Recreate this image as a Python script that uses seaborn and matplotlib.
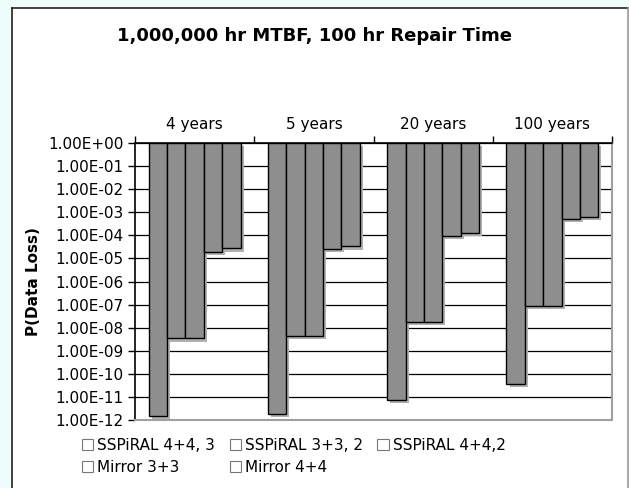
import pandas as pd
import seaborn as sns
import matplotlib
matplotlib.use('Agg')
import matplotlib.pyplot as plt
import matplotlib.patheffects as pe
from matplotlib.patches import Patch, Rectangle
from matplotlib.lines import Line2D
from matplotlib.ticker import FixedLocator, FuncFormatter

plt.rcParams['font.family'] = ['DejaVu Sans']

# data (P of data loss, bars hang down from 1)
periods = ['4 years', '5 years', '20 years', '100 years']
configs = ['SSPiRAL 4+4, 3', 'SSPiRAL 3+3, 2', 'SSPiRAL 4+4,2', 'Mirror 3+3', 'Mirror 4+4']
sspiral_443 = [1.5e-12, 1.9e-12, 7.7e-12, 3.8e-11]
sspiral_332 = [3.4e-9, 4.3e-9, 1.8e-8, 9.1e-8]
sspiral_442 = [3.4e-9, 4.3e-9, 1.8e-8, 9.1e-8]
mirror_33 = [1.9e-5, 2.5e-5, 9.5e-5, 5.0e-4]
mirror_44 = [2.7e-5, 3.3e-5, 1.3e-4, 6.3e-4]

series = [sspiral_443, sspiral_332, sspiral_442, mirror_33, mirror_44]
rows = []
for name, vals in zip(configs, series):
    for per, v in zip(periods, vals):
        rows.append({'Period': per, 'Config': name, 'P': v})
df = pd.DataFrame(rows)

bar_col = '#8e8e8e'
shadow_col = '#b0b0b0'

fig = plt.figure(figsize=(6.29, 4.88), dpi=100, facecolor='#eefcfc')
# white chart area with Excel-like frame
fig.add_artist(Rectangle((12/629, 0), 616/629, 480/488, transform=fig.transFigure,
                         facecolor='white', edgecolor='none', zorder=-10))
fig.add_artist(Line2D([12/629, 12/629], [0, 480/488], transform=fig.transFigure, color='#222222', lw=1.2))
fig.add_artist(Line2D([12/629, 628/629], [480/488, 480/488], transform=fig.transFigure, color='#222222', lw=1.2))
fig.add_artist(Line2D([627.5/629, 627.5/629], [0, 480/488], transform=fig.transFigure, color='#999999', lw=1.2))

ax = fig.add_axes([135/629, 1 - 420/488, 477/629, 277/488])
ax.set_facecolor('white')

sns.barplot(data=df, x='Period', y='P', hue='Config', order=periods, hue_order=configs,
            palette=[bar_col] * 5, edgecolor='black', linewidth=1.0, width=0.77,
            saturation=1, legend=False, errorbar=None, ax=ax)

# turn bars so they hang from 1 down to the value
for p in ax.patches:
    v = p.get_height()
    p.set_y(v)
    p.set_height(1 - v)
    p.set_path_effects([pe.SimplePatchShadow(offset=(2.2, -2.2), shadow_rgbFace=shadow_col, alpha=1),
                        pe.Normal()])

ax.set_yscale('log')
ax.set_ylim(1e-12, 1)
ax.set_xlim(-0.5, 3.5)
ax.yaxis.set_major_locator(FixedLocator([10.0 ** -k for k in range(13)]))
ax.yaxis.set_minor_locator(FixedLocator([]))
ax.yaxis.set_major_formatter(FuncFormatter(lambda v, pos: f'{v:.2E}'))
ax.tick_params(axis='y', length=5, width=1, color='black', labelsize=11, pad=3)
ax.grid(axis='y', color='black', lw=0.9)
ax.set_axisbelow(True)

# category axis sits at the top (crosses at 1)
ax.xaxis.tick_top()
ax.xaxis.set_label_position('top')
ax.set_xticks(range(4))
ax.set_xticklabels(periods)
ax.set_xticks([-0.5, 0.5, 1.5, 2.5, 3.5], minor=True)
ax.tick_params(axis='x', which='major', length=0, labelsize=11, pad=8)
ax.tick_params(axis='x', which='minor', length=5, width=1, color='black', top=True, bottom=False)
ax.set_xlabel('')
ax.set_ylabel('P(Data Loss)', fontsize=11, fontweight='bold')
ax.yaxis.set_label_coords((41 - 135) / 477, 0.5)

for s in ['top', 'left']:
    ax.spines[s].set_color('black')
    ax.spines[s].set_linewidth(1.2)
for s in ['bottom', 'right']:
    ax.spines[s].set_color('#a0a0a0')
    ax.spines[s].set_linewidth(1.5)

fig.text(0.5, 1 - 36/488, '1,000,000 hr MTBF, 100 hr Repair Time', ha='center', va='center',
         fontsize=13, fontweight='bold')

# legend, filled row by row like the original
handles = {c: Patch(facecolor='white', edgecolor='#777777', lw=0.8) for c in configs}
order = [configs[0], configs[3], configs[1], configs[4], configs[2]]
fig.legend([handles[c] for c in order], order, ncol=3, frameon=False,
           loc='upper left', bbox_to_anchor=(82/629, 1 - 438/488), borderaxespad=0,
           fontsize=11, handlelength=0.75, handleheight=0.75, handletextpad=0.25,
           columnspacing=0.95, labelspacing=0.45, borderpad=0)

fig.savefig('out.png', dpi=100, facecolor=fig.get_facecolor())
